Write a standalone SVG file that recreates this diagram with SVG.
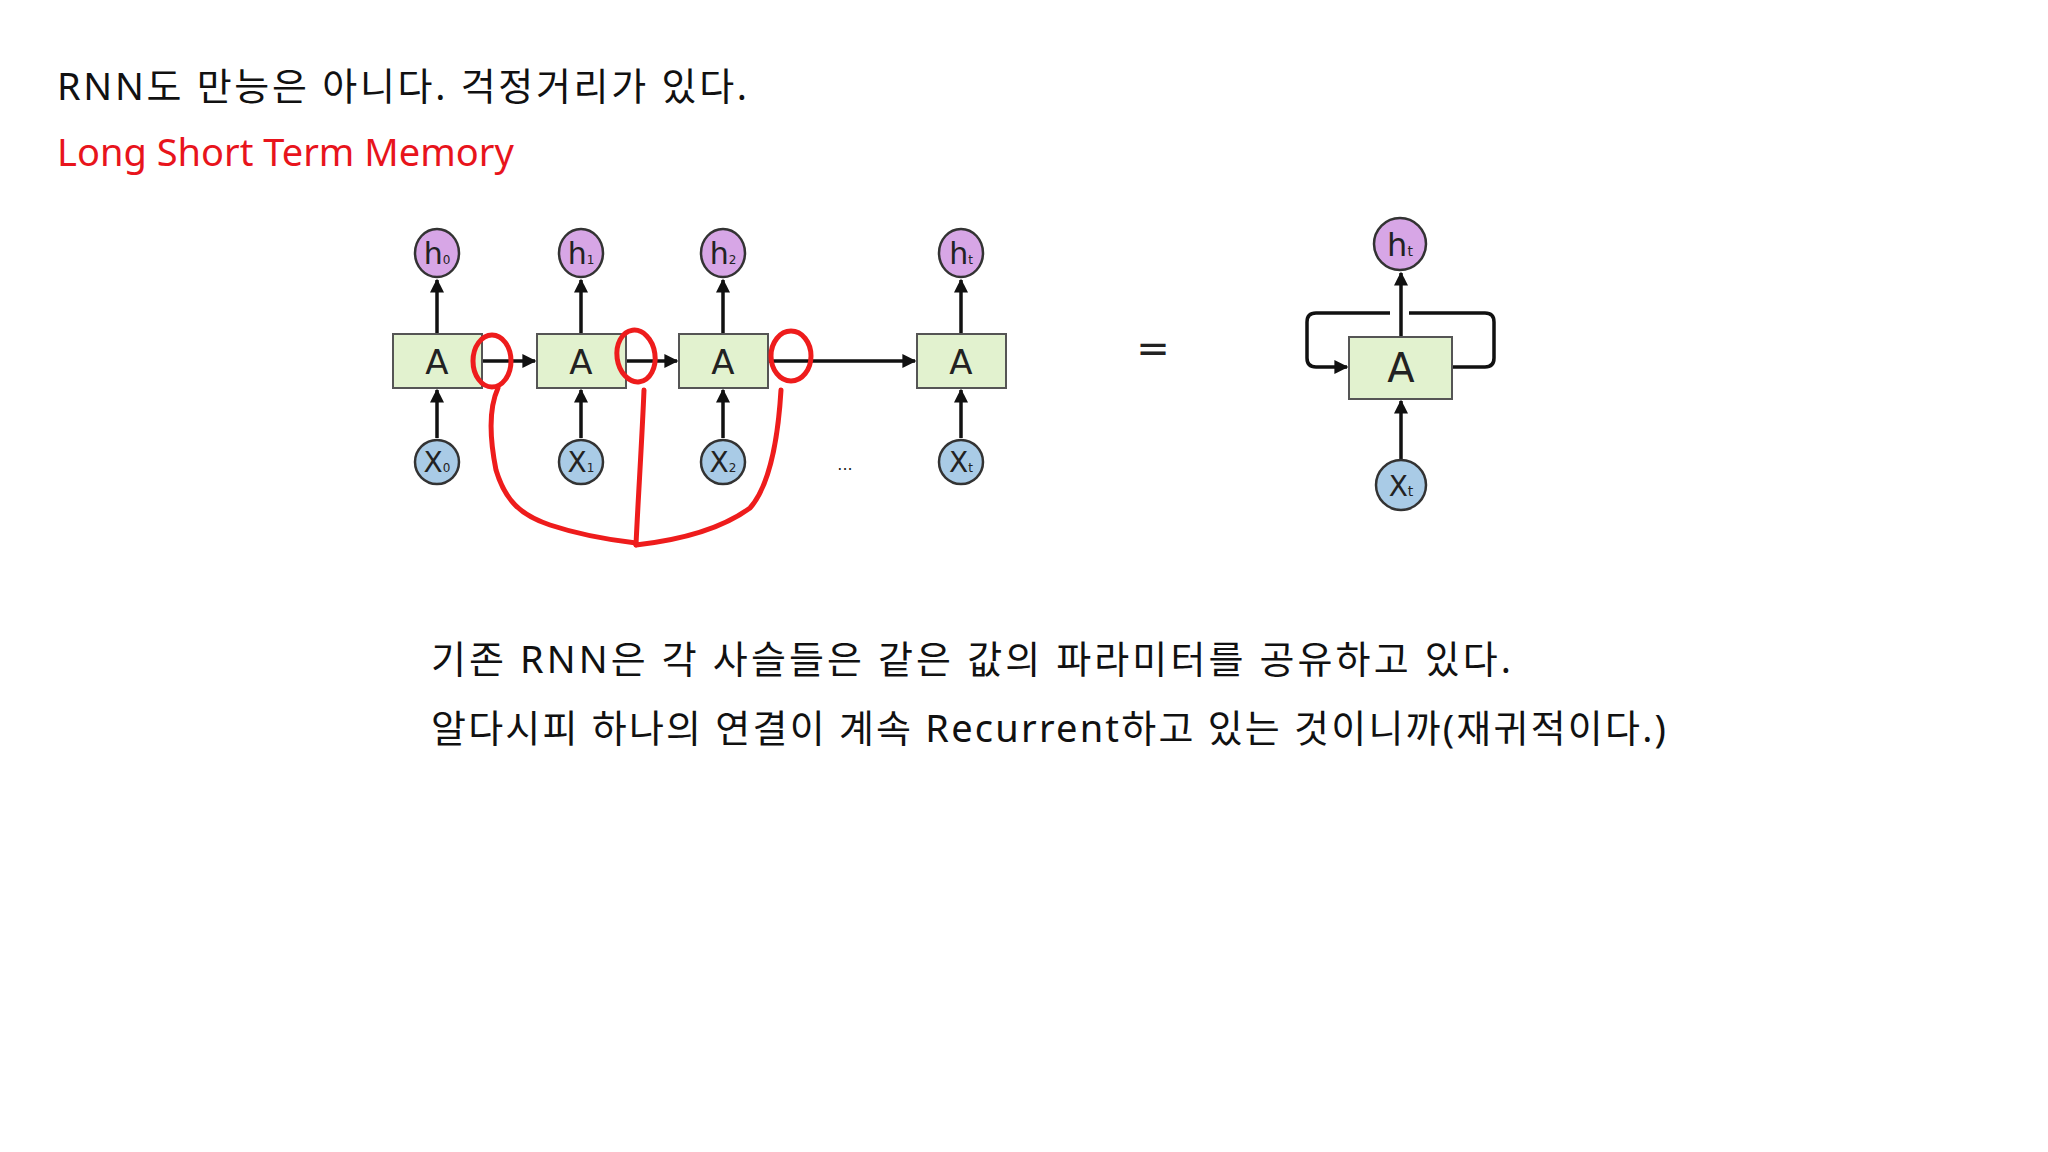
<svg xmlns="http://www.w3.org/2000/svg" width="2048" height="1152" viewBox="0 0 2048 1152">
<defs>
<style>
.t{font-family:"Noto Sans","Noto Sans CJK KR",sans-serif;font-size:38px;fill:#111}
.box{fill:#e2f2cf;stroke:#555;stroke-width:2}
.h{fill:#d7a6e6;stroke:#333;stroke-width:2.5}
.x{fill:#a9cbe6;stroke:#333;stroke-width:2.5}
.ln{stroke:#111;stroke-width:3.5;fill:none}
.lbl{font-family:"DejaVu Sans",sans-serif;fill:#222;text-anchor:middle}
.red{stroke:#ee1c1c;stroke-width:5;fill:none;stroke-linecap:round}
</style>
<marker id="ar" viewBox="0 0 10 10" refX="9" refY="5" markerWidth="4" markerHeight="4" orient="auto"><path d="M0,0L10,5L0,10z" fill="#111"/></marker>
</defs>
<rect width="2048" height="1152" fill="#fff"/>
<text class="t" x="57" y="100" textLength="690" lengthAdjust="spacing">RNN도 만능은 아니다. 걱정거리가 있다.</text>
<text class="t" x="57" y="166" style="fill:#e8141c">Long Short Term Memory</text>
<g id="connectors">
<line class="ln" x1="437" y1="334" x2="437" y2="280" marker-end="url(#ar)"/>
<line class="ln" x1="581" y1="334" x2="581" y2="280" marker-end="url(#ar)"/>
<line class="ln" x1="723" y1="334" x2="723" y2="280" marker-end="url(#ar)"/>
<line class="ln" x1="961" y1="334" x2="961" y2="280" marker-end="url(#ar)"/>
<line class="ln" x1="437" y1="438" x2="437" y2="390" marker-end="url(#ar)"/>
<line class="ln" x1="581" y1="438" x2="581" y2="390" marker-end="url(#ar)"/>
<line class="ln" x1="723" y1="438" x2="723" y2="390" marker-end="url(#ar)"/>
<line class="ln" x1="961" y1="438" x2="961" y2="390" marker-end="url(#ar)"/>
<line class="ln" x1="482" y1="361" x2="535" y2="361" marker-end="url(#ar)"/>
<line class="ln" x1="626" y1="361" x2="677" y2="361" marker-end="url(#ar)"/>
<line class="ln" x1="768" y1="361" x2="915" y2="361" marker-end="url(#ar)"/>
<line class="ln" x1="1401" y1="337" x2="1401" y2="273" marker-end="url(#ar)"/>
<line class="ln" x1="1401" y1="460" x2="1401" y2="401" marker-end="url(#ar)"/>
<path class="ln" d="M1390,313H1316Q1307,313 1307,322V358Q1307,367 1316,367H1347" marker-end="url(#ar)"/>
<path class="ln" d="M1409,313H1485Q1494,313 1494,322V358Q1494,367 1485,367H1452"/>
</g>
<g id="A0"><rect class="box" x="393" y="334" width="89" height="54"/><text class="lbl" x="437" y="374" font-size="34">A</text></g>
<g id="A1"><rect class="box" x="537" y="334" width="89" height="54"/><text class="lbl" x="581" y="374" font-size="34">A</text></g>
<g id="A2"><rect class="box" x="679" y="334" width="89" height="54"/><text class="lbl" x="723" y="374" font-size="34">A</text></g>
<g id="At"><rect class="box" x="917" y="334" width="89" height="54"/><text class="lbl" x="961" y="374" font-size="34">A</text></g>
<g id="h0"><ellipse class="h" cx="437" cy="253" rx="22" ry="24"/><text class="lbl" x="437" y="264" font-size="30">h<tspan font-size="12">0</tspan></text></g>
<g id="h1"><ellipse class="h" cx="581" cy="253" rx="22" ry="24"/><text class="lbl" x="581" y="264" font-size="30">h<tspan font-size="12">1</tspan></text></g>
<g id="h2"><ellipse class="h" cx="723" cy="253" rx="22" ry="24"/><text class="lbl" x="723" y="264" font-size="30">h<tspan font-size="12">2</tspan></text></g>
<g id="ht"><ellipse class="h" cx="961" cy="253" rx="22" ry="24"/><text class="lbl" x="961" y="264" font-size="30">h<tspan font-size="12">t</tspan></text></g>
<g id="x0"><ellipse class="x" cx="437" cy="462" rx="22" ry="22"/><text class="lbl" x="437" y="472" font-size="28">X<tspan font-size="12">0</tspan></text></g>
<g id="x1"><ellipse class="x" cx="581" cy="462" rx="22" ry="22"/><text class="lbl" x="581" y="472" font-size="28">X<tspan font-size="12">1</tspan></text></g>
<g id="x2"><ellipse class="x" cx="723" cy="462" rx="22" ry="22"/><text class="lbl" x="723" y="472" font-size="28">X<tspan font-size="12">2</tspan></text></g>
<g id="xt"><ellipse class="x" cx="961" cy="462" rx="22" ry="22"/><text class="lbl" x="961" y="472" font-size="28">X<tspan font-size="12">t</tspan></text></g>
<text class="lbl" x="845" y="470" font-size="16">...</text>
<text class="lbl" x="1153" y="362" font-size="40">=</text>
<g id="Aloop"><rect class="box" x="1349" y="337" width="103" height="62"/><text class="lbl" x="1401" y="382" font-size="40">A</text></g>
<g id="htl"><circle class="h" cx="1400" cy="244" r="26"/><text class="lbl" x="1400" y="256" font-size="32">h<tspan font-size="14">t</tspan></text></g>
<g id="xtl"><circle class="x" cx="1401" cy="485" r="25"/><text class="lbl" x="1401" y="496" font-size="28">X<tspan font-size="14">t</tspan></text></g>
<g id="annot">
<ellipse class="red" cx="492" cy="361" rx="19" ry="26"/>
<ellipse class="red" cx="636" cy="356" rx="19" ry="26" transform="rotate(-8 636 356)"/>
<ellipse class="red" cx="791" cy="356" rx="20" ry="25"/>
<path class="red" d="M498,388C488,410 490,440 496,470C505,500 520,515 550,525C580,535 610,540 636,543"/>
<path class="red" d="M644,390C642,440 638,500 636,545"/>
<path class="red" d="M781,390C778,440 770,485 750,508C720,530 680,540 636,545"/>
</g>
<text class="t" x="431" y="673" textLength="1080" lengthAdjust="spacing">기존 RNN은 각 사슬들은 같은 값의 파라미터를 공유하고 있다.</text>
<text class="t" x="431" y="742" textLength="1235" lengthAdjust="spacing">알다시피 하나의 연결이 계속 Recurrent하고 있는 것이니까(재귀적이다.)</text>
</svg>
